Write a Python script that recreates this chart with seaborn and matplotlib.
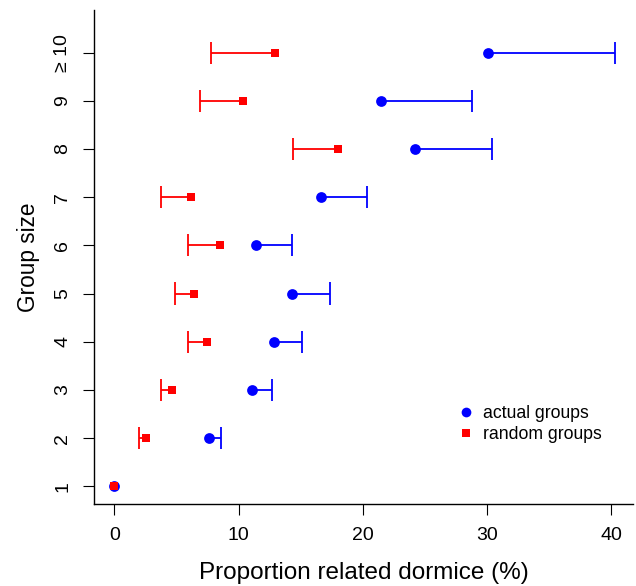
import numpy as np
import pandas as pd
import matplotlib
matplotlib.use("Agg")
import matplotlib.pyplot as plt
from matplotlib.lines import Line2D
import seaborn as sns

# ==========================================
# 1. DATA
# ==========================================
group_size = [1, 2, 3, 4, 5, 6, 7, 8, 9, 10]
group_labels = ["1", "2", "3", "4", "5", "6", "7", "8", "9", "\u2265 10"]

actual_mean = [0, 7.58, 11.05, 12.84, 14.29, 11.38, 16.67, 24.22, 21.43, 30.09]
actual_upper = [0, 8.56, 12.73, 15.13, 17.37, 14.32, 20.31, 30.41, 28.75, 40.31]

random_mean = [0, 2.52, 4.67, 7.47, 6.43, 8.50, 6.21, 17.97, 10.33, 12.93]
random_lower = [0, 2.01, 3.75, 5.96, 4.90, 5.95, 3.78, 14.35, 6.92, 7.78]

x_ticks = [0, 10, 20, 30, 40]

actual_df = pd.DataFrame({"size": group_size, "mean": actual_mean, "bound": actual_upper})
random_df = pd.DataFrame({"size": group_size, "mean": random_mean, "bound": random_lower})

# ==========================================
# 2. STYLE
# ==========================================
sns.set_style("ticks")
plt.rcParams["font.family"] = ["Liberation Sans", "DejaVu Sans"]
plt.rcParams["text.color"] = "black"
plt.rcParams["axes.labelcolor"] = "black"

fig = plt.figure(figsize=(6.36, 5.86), dpi=100)
ax = fig.add_axes([0.1483, 0.1391, 0.8467, 0.8439])

CAP = 0.23  # half cap height in group units

# ==========================================
# 3. ERROR BARS (one sided)
# ==========================================
for df, col in [(actual_df, "blue"), (random_df, "red")]:
    bars = df[df["bound"] != df["mean"]]
    ax.hlines(bars["size"], bars["mean"], bars["bound"], color=col, lw=1.3, zorder=2)
    ax.vlines(bars["bound"], bars["size"] - CAP, bars["size"] + CAP, color=col, lw=1.3, zorder=2)

# ==========================================
# 4. POINTS
# ==========================================
sns.scatterplot(data=actual_df, x="mean", y="size", ax=ax, color="blue",
                marker="o", s=60, linewidth=0, zorder=3)
sns.scatterplot(data=random_df, x="mean", y="size", ax=ax, color="red",
                marker="s", s=38, linewidth=0, zorder=4)

# ==========================================
# 5. AXES
# ==========================================
ax.set_xlim(-1.61, 41.73)
ax.set_ylim(0.622, 10.886)
ax.set_xticks(x_ticks)
ax.set_xticklabels([str(v) for v in x_ticks], fontsize=14)
ax.set_yticks(group_size)
ax.set_yticklabels(group_labels, fontsize=14, rotation=90, va="center")

ax.tick_params(axis="both", length=8, width=0.8, color="black", pad=8.5, labelcolor="black")
for side in ["top", "right"]:
    ax.spines[side].set_visible(False)
for side in ["left", "bottom"]:
    ax.spines[side].set_color("black")
    ax.spines[side].set_linewidth(1.0)

ax.set_xlabel("Proportion related dormice (%)", fontsize=17.5, color="black")
ax.set_ylabel("Group size", fontsize=16.3, color="black")
ax.xaxis.set_label_coords(0.5, -0.117)
ax.yaxis.set_label_coords(-0.1, 0.5)

# legend like R's pch legend, no frame
handles = [
    Line2D([], [], ls="none", marker="o", color="blue", markersize=7, markeredgewidth=0),
    Line2D([], [], ls="none", marker="s", color="red", markersize=5.5, markeredgewidth=0),
]
leg = ax.legend(handles, ["actual groups", "random groups"], loc="upper left",
                bbox_to_anchor=(0.677, 0.201), frameon=False, fontsize=12.7,
                handlelength=0.8, handletextpad=0.55, labelspacing=0.22,
                borderpad=0, borderaxespad=0)
for t in leg.get_texts():
    t.set_color("black")

plt.savefig("out.png", dpi=100)
plt.close()
